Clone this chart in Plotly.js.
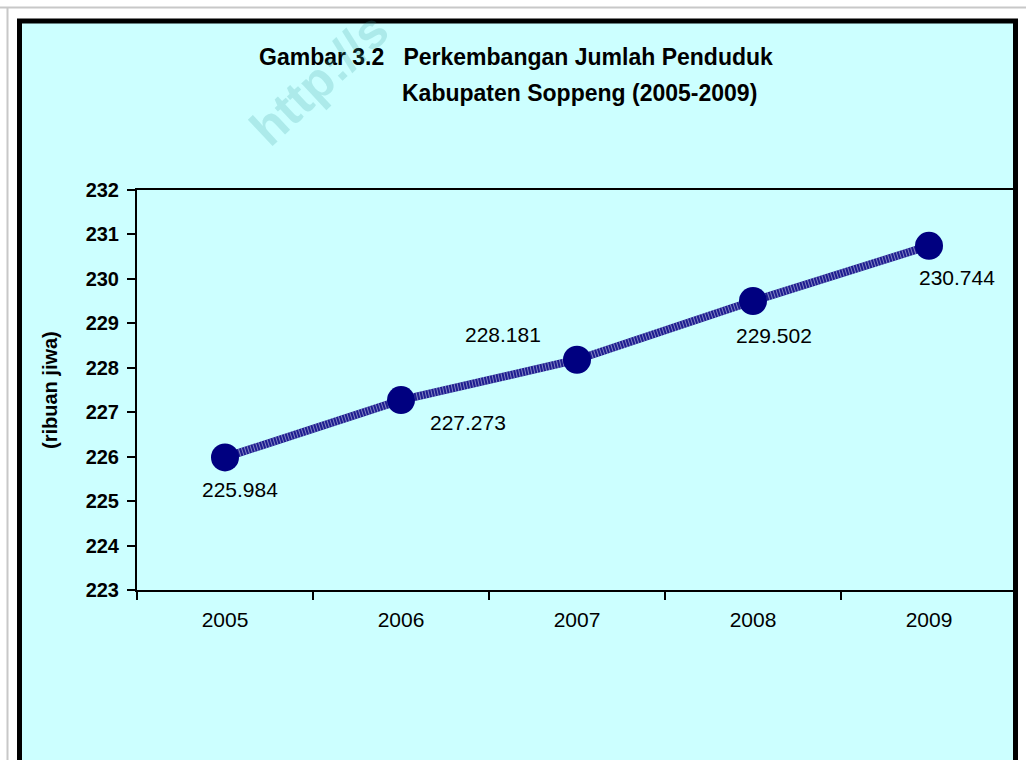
<!DOCTYPE html>
<html>
<head>
<meta charset="utf-8">
<script src="https://cdn.plot.ly/plotly-3.0.1.min.js"></script>
<style>html,body{margin:0;padding:0;background:#fff;}#chart{width:1026px;height:760px;}</style>
</head>
<body>
<div id="chart"></div>
<script>
// ---- data ----
var years = ['2005', '2006', '2007', '2008', '2009'];
var population = [225.984, 227.273, 228.181, 229.502, 230.744];
var valueLabels = ['225.984', '227.273', '228.181', '229.502', '230.744'];
var yTicks = [223, 224, 225, 226, 227, 228, 229, 230, 231, 232];

// ---- label placement (pixels relative to the marker) ----
var labelShiftX = [15, 67, -74, 21, 28];
var labelShiftY = [-32, -22, 25, -34, -32];

// plot area pixel geometry
var L = 137, R = 1017, T = 190, B = 590, W = 1026, H = 760;
function px(x) { return (x - L) / (R - L); }
function py(y) { return (B - y) / (B - T); }

var FONT = 'Liberation Sans, Arial, sans-serif';

var traces = [
  { x: years, y: population, type: 'scatter', mode: 'lines',
    line: { color: '#1e1e90', width: 8 }, hoverinfo: 'skip', showlegend: false },
  { x: years, y: population, type: 'scatter', mode: 'lines',
    line: { color: 'rgba(255,255,255,0.45)', width: 8, dash: '1px,2px' }, hoverinfo: 'skip', showlegend: false },
  { x: years, y: population, type: 'scatter', mode: 'markers',
    marker: { color: '#000080', size: 28, line: { width: 0 } }, showlegend: false }
];

var annotations = [];
for (var i = 0; i < years.length; i++) {
  annotations.push({
    x: i, y: population[i], xref: 'x', yref: 'y', text: valueLabels[i], showarrow: false,
    xshift: labelShiftX[i], yshift: labelShiftY[i],
    font: { family: FONT, size: 21, color: '#000' }
  });
}
annotations.push({
  xref: 'paper', yref: 'paper', x: px(257), y: py(57), xanchor: 'left', yanchor: 'middle',
  text: 'Gambar 3.2   Perkembangan Jumlah Penduduk', showarrow: false,
  font: { family: FONT, size: 23, color: '#000', weight: 'bold' }
});
annotations.push({
  xref: 'paper', yref: 'paper', x: px(400), y: py(93), xanchor: 'left', yanchor: 'middle',
  text: 'Kabupaten Soppeng (2005-2009)', showarrow: false,
  font: { family: FONT, size: 23, color: '#000', weight: 'bold' }
});
annotations.push({
  xref: 'paper', yref: 'paper', x: px(50), y: py(390), xanchor: 'center', yanchor: 'middle',
  text: '(ribuan jiwa)', textangle: -90, showarrow: false,
  font: { family: FONT, size: 20, color: '#000', weight: 'bold' }
});
// faint watermark
annotations.push({
  xref: 'paper', yref: 'paper', x: px(238), y: py(158), xanchor: 'left', yanchor: 'bottom',
  text: 'http://s', textangle: -43, showarrow: false, borderpad: 0,
  font: { family: FONT, size: 50, color: 'rgba(60,160,160,0.22)', weight: 'bold' }
});

var layout = {
  width: W, height: H,
  margin: { l: L, r: W - R, t: T, b: H - B, pad: 0 },
  paper_bgcolor: '#ffffff',
  plot_bgcolor: '#CCFFFF',
  showlegend: false,
  xaxis: {
    type: 'category', range: [-0.5, 4.5], tickson: 'boundaries',
    ticks: 'outside', ticklen: 8, tickwidth: 2, tickcolor: '#000',
    showline: true, linewidth: 2, linecolor: '#000', mirror: true,
    showgrid: false, zeroline: false, ticklabelstandoff: 10,
    tickfont: { family: FONT, size: 21, color: '#000' }
  },
  yaxis: {
    range: [223, 232], tickvals: yTicks, ticktext: yTicks.map(String),
    ticks: 'outside', ticklen: 8, tickwidth: 2, tickcolor: '#000',
    showline: true, linewidth: 2, linecolor: '#000',
    showgrid: false, zeroline: false, ticklabelstandoff: 4,
    tickfont: { family: FONT, size: 20, color: '#000', weight: 'bold' }
  },
  shapes: [
    { type: 'rect', xref: 'paper', yref: 'paper', layer: 'below',
      x0: px(19.5), x1: px(1015.5), y0: py(21), y1: py(800),
      line: { width: 0 }, fillcolor: '#CCFFFF' },
    { type: 'rect', xref: 'paper', yref: 'paper', layer: 'above',
      x0: px(19.5), x1: px(1015.5), y0: py(21), y1: py(800),
      line: { color: '#000', width: 5 }, fillcolor: 'rgba(0,0,0,0)' },
    { type: 'line', xref: 'paper', yref: 'paper', layer: 'above',
      x0: px(0), x1: px(1026), y0: py(7.5), y1: py(7.5),
      line: { color: '#c8c8c8', width: 2 } },
    { type: 'line', xref: 'paper', yref: 'paper', layer: 'above',
      x0: px(7.5), x1: px(7.5), y0: py(7.5), y1: py(760),
      line: { color: '#c8c8c8', width: 2 } }
  ],
  annotations: annotations
};

Plotly.newPlot('chart', traces, layout, { displayModeBar: false, staticPlot: true });
</script>
</body>
</html>
